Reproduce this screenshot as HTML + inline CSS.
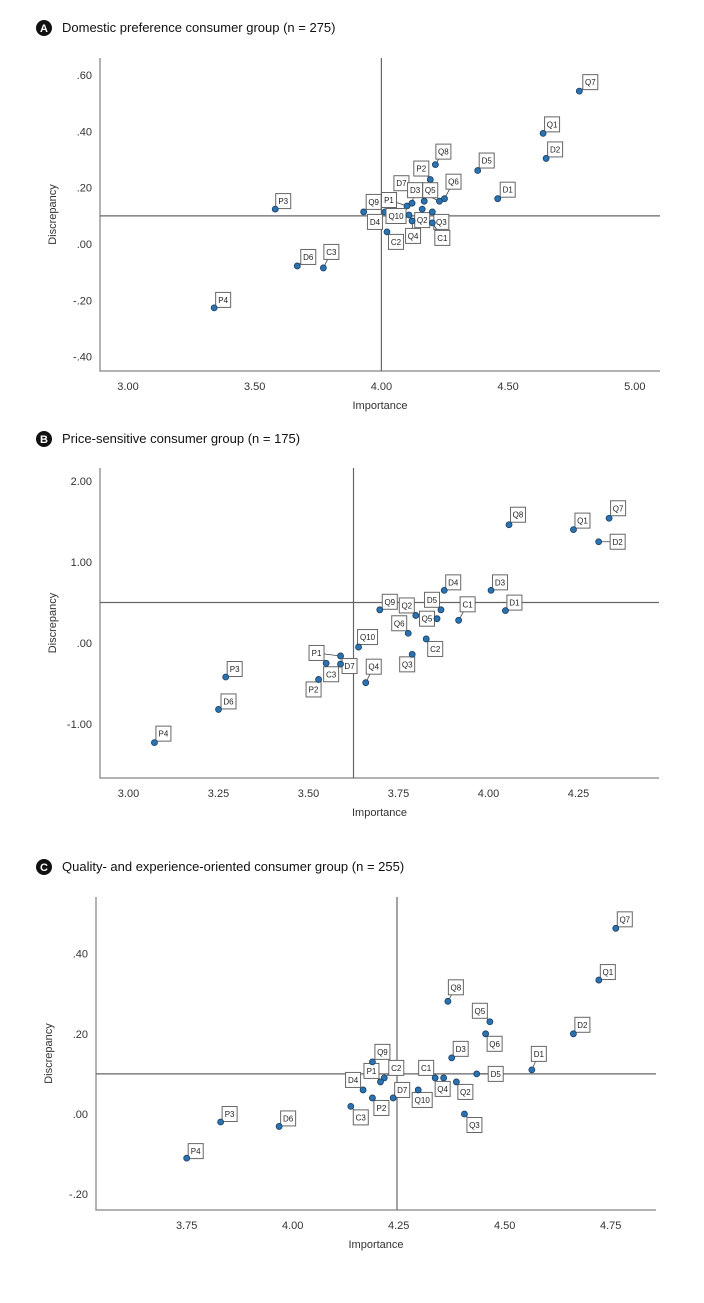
<!DOCTYPE html>
<html><head><meta charset="utf-8">
<style>
body{margin:0;background:#fff;font-family:"Liberation Sans",Arial,sans-serif;}
svg text{font-family:"Liberation Sans",Arial,sans-serif;}
</style></head>
<body>
<svg id="chart" width="704" height="1298" viewBox="0 0 704 1298" xmlns="http://www.w3.org/2000/svg"></svg>
<script>
// Panel A data
const aLabels=["Q7","Q1","D2","D5","D1","Q8","P2","Q6","D7","D3","Q5","Q9","P1","D4","Q10","Q2","Q3","Q4","C1","C2","D6","C3","P3","P4"];
const aImportance=[4.781,4.638,4.650,4.380,4.459,4.213,4.193,4.249,4.229,4.121,4.169,3.930,4.101,4.014,4.109,4.161,4.201,4.121,4.201,4.022,3.668,3.771,3.581,3.340];
const aDiscrepancy=[0.543,0.393,0.304,0.261,0.161,0.282,0.229,0.161,0.152,0.145,0.152,0.114,0.135,0.114,0.103,0.124,0.114,0.082,0.075,0.043,-0.078,-0.085,0.124,-0.227];
const aXTicks=[3.00,3.50,4.00,4.50,5.00];
const aYTicks=[0.60,0.40,0.20,0.00,-0.20,-0.40];
const aYTickText=[".60",".40",".20",".00","-.20","-.40"];
// Panel B data
const bLabels=["Q7","Q1","D2","Q8","D4","D3","D1","C1","Q9","Q2","D5","Q5","Q6","C2","Q3","Q10","Q4","P1","C3","D7","P2","P3","D6","P4"];
const bImportance=[4.335,4.236,4.306,4.057,3.877,4.007,4.047,3.917,3.698,3.798,3.868,3.857,3.777,3.827,3.788,3.639,3.659,3.589,3.549,3.589,3.528,3.270,3.250,3.072];
const bDiscrepancy=[1.54,1.40,1.25,1.46,0.65,0.65,0.40,0.28,0.41,0.34,0.41,0.30,0.12,0.05,-0.14,-0.05,-0.49,-0.16,-0.25,-0.26,-0.45,-0.42,-0.82,-1.23];
const bXTicks=[3.00,3.25,3.50,3.75,4.00,4.25];
const bYTicks=[2.00,1.00,0.00,-1.00];
const bYTickText=["2.00","1.00",".00","-1.00"];
// Panel C data
const cLabels=["Q7","Q1","D2","Q8","Q5","Q6","D3","D1","D5","C1","Q4","Q2","Q3","Q10","D7","C2","P1","Q9","P2","D4","C3","D6","P3","P4"];
const cImportance=[4.762,4.722,4.662,4.366,4.465,4.455,4.375,4.564,4.434,4.336,4.356,4.386,4.405,4.296,4.237,4.216,4.207,4.188,4.188,4.166,4.137,3.968,3.830,3.750];
const cDiscrepancy=[0.463,0.334,0.200,0.281,0.230,0.200,0.140,0.110,0.100,0.090,0.090,0.080,0.000,0.060,0.040,0.090,0.080,0.130,0.040,0.060,0.019,-0.031,-0.020,-0.110];
const cXTicks=[3.75,4.00,4.25,4.50,4.75];
const cYTicks=[0.40,0.20,0.00,-0.20];
const cYTickText=[".40",".20",".00","-.20"];

const NS="http://www.w3.org/2000/svg";
const svg=document.getElementById('chart');
function mk(tag,attrs,parent){const e=document.createElementNS(NS,tag);for(const k in attrs)e.setAttribute(k,attrs[k]);(parent||svg).appendChild(e);return e;}

// label offsets (pixel styling)
const aOff={Q7:[11,-9],Q1:[9,-9],D2:[9,-9],D5:[9,-10],D1:[10,-9],Q8:[8,-13],P2:[-9,-11],Q6:[9,-17],D7:[-38,-18],D3:[3,-13],Q5:[6,-11],Q9:[10,-10],P1:[-18,-6],D4:[-10,10],Q10:[-13,1],Q2:[0,11],Q3:[9,10],Q4:[1,15],C1:[10,15],C2:[9,10],D6:[11,-9],C3:[8,-16],P3:[8,-8],P4:[9,-8]};
const bOff={Q7:[9,-10],Q1:[9,-9],D2:[19,0],Q8:[9,-10],D4:[9,-8],D3:[9,-8],D1:[9,-8],C1:[9,-16],Q9:[10,-8],Q2:[-9,-10],D5:[-9,-10],Q5:[-10,0],Q6:[-9,-10],C2:[9,10],Q3:[-5,10],Q10:[9,-10],Q4:[8,-16],P1:[-24,-3],C3:[5,11],D7:[9,2],P2:[-5,10],P3:[9,-8],D6:[10,-8],P4:[9,-9]};
const cOff={Q7:[9,-9],Q1:[9,-8],D2:[9,-9],Q8:[8,-14],Q5:[-10,-11],Q6:[9,10],D3:[9,-9],D1:[7,-16],D5:[19,0],C1:[-9,-10],Q4:[-1,11],Q2:[9,10],Q3:[10,11],Q10:[4,10],D7:[9,-8],C2:[12,-10],P1:[-9,-11],Q9:[10,-10],P2:[9,10],D4:[-10,-10],C3:[10,11],D6:[9,-8],P3:[9,-8],P4:[9,-7]};

function panel(cfg){
  const g=mk('g',{});
  
  
  const sx=v=>cfg.xPx0+(v-cfg.xV0)*cfg.xK;
  const sy=v=>cfg.yPx0-(v-cfg.yV0)*cfg.yK;
  const badge=mk('circle',{cx:cfg.badgeX,cy:cfg.headY-4,r:8,fill:'#111'},g);
  
  
  const bt=mk('text',{x:cfg.badgeX,y:cfg.headY,'text-anchor':'middle','font-size':11,'font-weight':'bold',fill:'#fff'},g);bt.textContent=cfg.letter;
  
  
  const ht=mk('text',{x:cfg.badgeX+18,y:cfg.headY,'font-size':13,fill:'#111'},g);ht.textContent=cfg.title;
  
  
  const ax=mk('path',{d:`M${cfg.L},${cfg.T}V${cfg.B}H${cfg.R}`,fill:'none',stroke:'#999','stroke-width':1.5},g);
  
  
  cfg.xTicks.forEach(v=>{const t=mk('text',{x:sx(v),y:cfg.B+19,'text-anchor':'middle','font-size':11,fill:'#333'},g);t.textContent=v.toFixed(2);
    
    });
  cfg.yTicks.forEach((v,i)=>{const t=mk('text',{x:cfg.L-8,y:sy(v)+4,'text-anchor':'end','font-size':11,fill:'#333'},g);t.textContent=cfg.yText[i];
    
    });
  const xt=mk('text',{x:(cfg.L+cfg.R)/2,y:cfg.B+38,'text-anchor':'middle','font-size':11,fill:'#333'},g);xt.textContent='Importance';
  
  
  const yc=(cfg.T+cfg.B)/2;
  const yt=mk('text',{x:cfg.L-44,y:yc,'text-anchor':'middle','font-size':11,fill:'#333',transform:`rotate(-90 ${cfg.L-44} ${yc})`},g);yt.textContent='Discrepancy';
  
  
  const rv=mk('line',{x1:sx(cfg.refX),x2:sx(cfg.refX),y1:cfg.T,y2:cfg.B,stroke:'#666','stroke-width':1.2},g);
  
  
  const rh=mk('line',{x1:cfg.L,x2:cfg.R,y1:sy(cfg.refY),y2:sy(cfg.refY),stroke:'#666','stroke-width':1.2},g);
  
  
  cfg.labels.forEach((lab,i)=>{
    const px=sx(cfg.xs[i]),py=sy(cfg.ys[i]);
    const o=cfg.off[lab]||[9,-9];
    const lx=px+o[0],ly=py+o[1];
    const ld=mk('line',{x1:px,y1:py,x2:lx,y2:ly,stroke:'#444','stroke-width':0.8},g);
    
    
    const w=lab.length>2?20:15;
    const rb=mk('rect',{x:lx-w/2,y:ly-7.5,width:w,height:15,fill:'#fff',stroke:'#666','stroke-width':1},g);
    
    
    const tx=mk('text',{x:lx,y:ly+3,'text-anchor':'middle','font-size':8,fill:'#222'},g);tx.textContent=lab;
    
    
    const c=mk('circle',{cx:px,cy:py,r:3,fill:'#2a72b0',stroke:'#1b3f63','stroke-width':0.8},g);
    
    
  });
}

panel({name:'panel-a-domestic',letter:'A',title:'Domestic preference consumer group (n = 275)',badgeX:44,headY:32,
  L:100,R:660,T:58,B:371,xPx0:128,xV0:3,xK:253.4,yPx0:244,yV0:0,yK:281.5,refX:4.0,refY:0.10,
  xTicks:aXTicks,yTicks:aYTicks,yText:aYTickText,labels:aLabels,xs:aImportance,ys:aDiscrepancy,off:aOff});
panel({name:'panel-b-price-sensitive',letter:'B',title:'Price-sensitive consumer group (n = 175)',badgeX:44,headY:443,
  L:100,R:659,T:468,B:778,xPx0:128.5,xV0:3,xK:360,yPx0:643,yV0:0,yK:81,refX:3.625,refY:0.50,
  xTicks:bXTicks,yTicks:bYTicks,yText:bYTickText,labels:bLabels,xs:bImportance,ys:bDiscrepancy,off:bOff});
panel({name:'panel-c-quality-experience',letter:'C',title:'Quality- and experience-oriented consumer group (n = 255)',badgeX:44,headY:871,
  L:96,R:656,T:897,B:1210,xPx0:186.7,xV0:3.75,xK:424,yPx0:1114,yV0:0,yK:401,refX:4.246,refY:0.10,
  xTicks:cXTicks,yTicks:cYTicks,yText:cYTickText,labels:cLabels,xs:cImportance,ys:cDiscrepancy,off:cOff});
</script>
</body></html>
